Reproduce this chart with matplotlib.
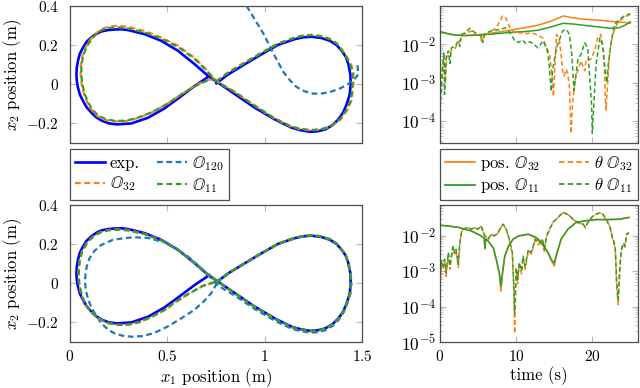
import numpy as np
import matplotlib
matplotlib.use("Agg")
import matplotlib.pyplot as plt
from matplotlib.ticker import FixedLocator, FixedFormatter, LogLocator, NullFormatter
from matplotlib.lines import Line2D

plt.rcParams['mathtext.fontset'] = 'cm'
plt.rcParams['font.family'] = 'serif'
plt.rcParams['font.serif'] = ['cmr10', 'DejaVu Serif']
plt.rcParams['axes.formatter.use_mathtext'] = True
plt.rcParams['font.size'] = 11

# ---------------- data: trajectories (x1, x2) ----------------
exp_x = [0.752, 0.813, 0.899, 0.985, 1.070, 1.156, 1.198, 1.241, 1.290, 1.336, 1.370, 1.396, 1.417, 1.430,
         1.440, 1.442, 1.437, 1.421, 1.403, 1.378, 1.347, 1.310, 1.272, 1.233, 1.186, 1.139, 1.053, 0.950,
         0.848, 0.760, 0.709, 0.640, 0.555, 0.469, 0.384, 0.298, 0.265, 0.230, 0.195, 0.161, 0.134, 0.110,
         0.085, 0.067, 0.050, 0.041, 0.035, 0.033, 0.035, 0.041, 0.051, 0.067, 0.086, 0.110, 0.134, 0.161,
         0.197, 0.238, 0.315, 0.401, 0.486, 0.572, 0.640, 0.700, 0.715]
exp_y = [0.005, 0.051, 0.103, 0.154, 0.202, 0.231, 0.240, 0.243, 0.237, 0.222, 0.200, 0.171, 0.140, 0.103,
         0.052, 0.000, -0.052, -0.103, -0.145, -0.180, -0.210, -0.231, -0.240, -0.243, -0.235, -0.222, -0.180, -0.120,
         -0.051, 0.009, 0.043, 0.103, 0.171, 0.222, 0.256, 0.277, 0.281, 0.280, 0.277, 0.270, 0.257, 0.240,
         0.217, 0.188, 0.155, 0.120, 0.086, 0.051, 0.017, -0.017, -0.053, -0.086, -0.118, -0.145, -0.168, -0.185,
         -0.199, -0.205, -0.200, -0.171, -0.123, -0.060, -0.009, 0.031, 0.042]

# top panel: O32 and O11 models
o32_top_x = [0.752, 0.813, 0.899, 0.985, 1.070, 1.156, 1.198, 1.241, 1.290, 1.336, 1.370, 1.410, 1.440, 1.455,
             1.457, 1.452, 1.447, 1.425, 1.390, 1.350, 1.300, 1.241, 1.186, 1.139, 1.053, 0.950, 0.848, 0.800,
             0.752, 0.700, 0.640, 0.555, 0.469, 0.384, 0.300, 0.247, 0.200, 0.161, 0.118, 0.085, 0.065, 0.056,
             0.055, 0.060, 0.072, 0.090, 0.110, 0.140, 0.180, 0.230, 0.290, 0.350, 0.418, 0.500, 0.572, 0.640,
             0.700, 0.745]
o32_top_y = [0.016, 0.062, 0.113, 0.163, 0.210, 0.240, 0.250, 0.253, 0.247, 0.232, 0.210, 0.160, 0.110, 0.068,
             0.020, -0.030, -0.080, -0.130, -0.180, -0.210, -0.229, -0.236, -0.230, -0.218, -0.176, -0.110, -0.040, -0.012,
             0.016, 0.075, 0.135, 0.197, 0.239, 0.272, 0.293, 0.299, 0.295, 0.282, 0.248, 0.200, 0.150, 0.100,
             0.051, 0.000, -0.050, -0.095, -0.130, -0.162, -0.182, -0.190, -0.188, -0.172, -0.145, -0.100, -0.051, -0.008,
             0.020, 0.030]
o11_top_x = [0.752, 0.813, 0.899, 0.985, 1.070, 1.156, 1.198, 1.241, 1.290, 1.336, 1.370, 1.408, 1.437, 1.451,
             1.453, 1.449, 1.443, 1.422, 1.388, 1.348, 1.300, 1.241, 1.186, 1.139, 1.053, 0.950, 0.848, 0.800,
             0.752, 0.700, 0.640, 0.555, 0.469, 0.384, 0.300, 0.247, 0.200, 0.161, 0.120, 0.088, 0.068, 0.059,
             0.058, 0.063, 0.075, 0.093, 0.113, 0.143, 0.183, 0.232, 0.290, 0.350, 0.418, 0.500, 0.572, 0.640,
             0.700, 0.745]
o11_top_y = [0.014, 0.059, 0.110, 0.160, 0.207, 0.238, 0.248, 0.251, 0.245, 0.230, 0.208, 0.158, 0.108, 0.066,
             0.018, -0.031, -0.080, -0.128, -0.177, -0.207, -0.227, -0.234, -0.228, -0.216, -0.175, -0.110, -0.041, -0.013,
             0.014, 0.071, 0.130, 0.191, 0.233, 0.265, 0.285, 0.291, 0.288, 0.276, 0.243, 0.197, 0.148, 0.099,
             0.051, 0.001, -0.048, -0.092, -0.127, -0.158, -0.178, -0.187, -0.186, -0.170, -0.144, -0.100, -0.052, -0.010,
             0.017, 0.028]
o120_top_x = [0.907, 0.950, 0.993, 1.045, 1.096, 1.130, 1.164, 1.205, 1.250, 1.295, 1.336, 1.380, 1.421, 1.464,
              1.481, 1.478, 1.473]
o120_top_y = [0.400, 0.330, 0.260, 0.157, 0.063, 0.020, -0.014, -0.036, -0.048, -0.047, -0.039, -0.024, -0.005, 0.029,
              0.051, 0.085, 0.113]

# bottom panel
o32_bot_x = [0.752, 0.813, 0.899, 0.985, 1.070, 1.156, 1.198, 1.241, 1.290, 1.336, 1.370, 1.417, 1.442, 1.445,
             1.440, 1.423, 1.405, 1.380, 1.349, 1.312, 1.272, 1.233, 1.186, 1.139, 1.053, 0.950, 0.848, 0.760,
             0.709, 0.640, 0.555, 0.469, 0.384, 0.298, 0.265, 0.230, 0.195, 0.161, 0.134, 0.110, 0.085, 0.062,
             0.050, 0.044, 0.043, 0.046, 0.055, 0.070, 0.090, 0.115, 0.145, 0.190, 0.247, 0.300, 0.360, 0.420,
             0.490, 0.531, 0.600, 0.680, 0.752]
o32_bot_y = [0.008, 0.052, 0.104, 0.155, 0.203, 0.233, 0.242, 0.246, 0.240, 0.225, 0.203, 0.143, 0.053, 0.000,
             -0.052, -0.103, -0.145, -0.180, -0.210, -0.232, -0.242, -0.245, -0.237, -0.224, -0.182, -0.121, -0.052, 0.008,
             0.045, 0.104, 0.170, 0.220, 0.252, 0.272, 0.275, 0.275, 0.272, 0.263, 0.250, 0.232, 0.205, 0.165,
             0.120, 0.080, 0.040, 0.000, -0.045, -0.090, -0.125, -0.155, -0.180, -0.203, -0.213, -0.212, -0.198, -0.172,
             -0.135, -0.104, -0.060, -0.015, 0.009]
o11_bot_x = [0.752, 0.813, 0.899, 0.985, 1.070, 1.156, 1.198, 1.241, 1.290, 1.336, 1.370, 1.416, 1.441, 1.444,
             1.439, 1.422, 1.404, 1.379, 1.348, 1.311, 1.272, 1.233, 1.186, 1.139, 1.053, 0.950, 0.848, 0.760,
             0.709, 0.640, 0.555, 0.469, 0.384, 0.298, 0.265, 0.230, 0.195, 0.161, 0.134, 0.110, 0.086, 0.063,
             0.051, 0.046, 0.045, 0.048, 0.057, 0.072, 0.092, 0.117, 0.147, 0.192, 0.247, 0.300, 0.360, 0.420,
             0.490, 0.531, 0.600, 0.680, 0.752]
o11_bot_y = [0.008, 0.052, 0.104, 0.155, 0.203, 0.233, 0.242, 0.246, 0.240, 0.225, 0.203, 0.143, 0.053, 0.000,
             -0.052, -0.103, -0.145, -0.180, -0.210, -0.232, -0.242, -0.245, -0.237, -0.224, -0.182, -0.121, -0.052, 0.008,
             0.045, 0.104, 0.169, 0.219, 0.251, 0.270, 0.273, 0.273, 0.270, 0.261, 0.248, 0.230, 0.203, 0.164,
             0.120, 0.080, 0.040, 0.000, -0.044, -0.089, -0.124, -0.154, -0.179, -0.202, -0.212, -0.211, -0.197, -0.171,
             -0.134, -0.103, -0.059, -0.014, 0.009]
o120_bot_x = [0.752, 0.813, 0.899, 0.985, 1.070, 1.156, 1.198, 1.241, 1.290, 1.336, 1.370, 1.417, 1.442, 1.445,
              1.440, 1.423, 1.405, 1.380, 1.349, 1.312, 1.272, 1.233, 1.186, 1.139, 1.053, 0.950, 0.848, 0.790,
              0.752, 0.726, 0.675, 0.606, 0.500, 0.400, 0.330, 0.281, 0.220, 0.161, 0.125, 0.100, 0.087, 0.080,
              0.077, 0.080, 0.090, 0.101, 0.125, 0.161, 0.200, 0.230, 0.270, 0.315, 0.370, 0.430, 0.500, 0.570,
              0.637, 0.690, 0.726, 0.752]
o120_bot_y = [0.000, 0.050, 0.102, 0.153, 0.201, 0.232, 0.241, 0.245, 0.239, 0.224, 0.202, 0.142, 0.052, 0.000,
              -0.054, -0.107, -0.150, -0.187, -0.218, -0.240, -0.250, -0.252, -0.245, -0.232, -0.192, -0.132, -0.064, -0.030,
              -0.004, 0.026, 0.077, 0.137, 0.205, 0.232, 0.235, 0.231, 0.222, 0.196, 0.165, 0.127, 0.090, 0.050,
              0.017, -0.030, -0.070, -0.103, -0.150, -0.205, -0.240, -0.256, -0.268, -0.273, -0.270, -0.255, -0.222, -0.180,
              -0.137, -0.090, -0.050, -0.004]

# ---------------- data: errors over time (log10 of error) ----------------
t_pos_top = [0, 1, 2, 3.3, 5, 6.3, 8, 9.8, 11, 12.9, 14.5, 16.2, 17.5, 19.2, 21, 22.4, 23.5, 24.3, 25]
pos32_top_log = [-1.67, -1.72, -1.76, -1.77, -1.75, -1.72, -1.67, -1.61, -1.57, -1.50, -1.40, -1.26, -1.31,
                 -1.35, -1.37, -1.40, -1.42, -1.43, -1.45]
pos11_top_log = [-1.67, -1.72, -1.76, -1.77, -1.76, -1.74, -1.71, -1.68, -1.67, -1.63, -1.55, -1.45, -1.47,
                 -1.51, -1.55, -1.58, -1.57, -1.50, -1.41]

t_th11_top = [0, 0.3, 0.5, 0.6, 0.8, 1.1, 1.3, 1.5, 2.0, 2.4, 2.6, 2.8, 3.3, 3.9, 4.5, 5.0, 5.4, 5.6, 5.9,
              6.8, 7.6, 8.6, 9.2, 9.6, 9.8, 10.3, 10.8, 11.3, 11.8, 12.3, 12.9, 13.5, 14.0, 14.2, 14.4, 14.6,
              14.8, 15.3, 16.1, 16.6, 17.0, 17.3, 17.6, 17.8, 18.1, 18.5, 19.0, 19.4, 19.6, 19.9, 20.0, 20.2,
              20.5, 21.0, 21.4, 21.6, 21.9, 22.1, 22.5, 22.9, 23.6, 24.2, 24.7, 25.0]
th11_top_log = [-3.66, -2.80, -2.20, -3.30, -2.35, -2.17, -2.50, -2.09, -2.05, -1.91, -2.05, -1.74, -1.70,
                -1.58, -1.68, -1.75, -1.78, -1.95, -1.72, -1.64, -1.62, -1.57, -1.70, -1.83, -1.91, -1.95,
                -1.88, -1.98, -1.93, -2.00, -2.09, -1.91, -2.10, -2.26, -2.69, -3.23, -2.65, -2.09, -1.65,
                -1.61, -1.74, -2.26, -3.20, -2.86, -2.40, -2.26, -1.96, -2.09, -2.69, -3.56, -4.32, -3.56,
                -2.52, -1.83, -2.04, -2.52, -3.00, -2.52, -1.91, -1.48, -1.35, -1.26, -1.22, -1.20]

t_th32_top = [0, 0.3, 0.5, 0.7, 0.9, 1.2, 1.5, 2.0, 2.4, 2.8, 3.3, 4.1, 4.6, 5.3, 5.5, 5.8, 6.5, 7.0, 7.6,
              8.2, 8.6, 9.2, 9.8, 10.5, 11.3, 12.0, 12.6, 13.5, 14.0, 14.4, 14.7, 14.9, 15.1, 15.3, 15.7,
              15.9, 16.1, 16.3, 16.6, 16.8, 17.0, 17.1, 17.2, 17.4, 17.7, 18.1, 18.5, 19.0, 19.2, 19.8, 20.3,
              20.7, 21.1, 21.3, 21.6, 21.7, 21.8, 22.0, 22.3, 22.7, 23.2, 23.8, 24.5, 25.0]
th32_top_log = [-3.45, -2.60, -2.30, -3.00, -2.30, -2.30, -2.15, -2.10, -1.95, -1.85, -1.72, -1.65, -1.72,
                -1.78, -1.95, -1.75, -1.70, -1.62, -1.50, -1.26, -1.30, -1.57, -1.70, -1.70, -1.72, -1.70,
                -1.74, -1.83, -2.09, -2.26, -2.80, -3.36, -2.50, -1.74, -1.91, -2.26, -2.69, -2.82, -2.65,
                -2.78, -3.12, -3.73, -4.32, -3.56, -2.95, -2.69, -2.43, -2.69, -2.39, -2.39, -2.17, -1.83,
                -1.74, -1.91, -2.60, -3.39, -3.71, -3.04, -2.17, -1.74, -1.48, -1.35, -1.26, -1.22]

t_pos_bot = [0, 1, 2.4, 4.1, 5.4, 5.8, 5.9, 6.0, 6.3, 7.0, 7.4, 7.8, 8.0, 8.2, 8.5, 9.0, 9.6, 10.3, 11.6,
             12.6, 13.0, 13.5, 14.2, 14.6, 15.0, 15.3, 15.9, 16.8, 17.9, 19.2, 20.5, 22.3, 23.6, 24.8]
pos11_bot_log = [-1.71, -1.73, -1.77, -1.87, -2.01, -2.07, -2.35, -2.10, -2.15, -2.34, -2.67, -3.05, -3.42,
                 -3.05, -2.58, -2.29, -2.10, -2.01, -1.96, -2.05, -2.12, -2.25, -2.48, -2.67, -2.78, -2.53,
                 -2.10, -1.82, -1.63, -1.58, -1.55, -1.55, -1.54, -1.49]
pos32_bot_log = [-1.71, -1.73, -1.77, -1.87, -2.01, -2.07, -2.38, -2.10, -2.15, -2.35, -2.70, -3.12, -3.57,
                 -3.10, -2.60, -2.30, -2.11, -2.02, -1.97, -2.07, -2.18, -2.27, -2.50, -2.70, -2.86, -2.56,
                 -2.11, -1.82, -1.63, -1.58, -1.55, -1.55, -1.54, -1.49]

t_th_bot = [0, 0.2, 0.4, 0.6, 0.8, 1.1, 1.3, 1.5, 1.7, 1.9, 2.1, 2.4, 2.6, 2.8, 3.0, 3.7, 4.1, 4.6, 5.0,
            5.4, 5.9, 6.3, 6.8, 7.2, 7.6, 8.1, 8.3, 8.7, 9.1, 9.5, 9.6, 9.7, 9.8, 9.9, 10.0, 10.2, 10.4,
            10.7, 10.9, 11.2, 11.6, 12.0, 12.5, 12.9, 13.1, 13.5, 13.7, 14.0, 14.4, 14.8, 15.5, 16.1, 16.8,
            17.5, 18.1, 18.8, 19.1, 19.4, 20.1, 21.0, 21.4, 21.8, 22.3, 22.6, 23.0, 23.1, 23.2, 23.4, 23.6,
            23.8, 24.1, 24.3, 24.5, 24.8]
th11_bot_log = [-3.24, -2.70, -2.86, -2.67, -3.05, -2.48, -2.86, -2.58, -2.29, -2.48, -2.39, -2.81, -2.20,
                -1.92, -1.82, -1.77, -1.82, -1.77, -1.82, -1.73, -2.01, -2.10, -1.96, -2.01, -1.92, -1.73,
                -1.68, -1.82, -2.10, -2.48, -2.95, -3.43, -4.18, -3.60, -2.90, -3.24, -2.76, -3.00, -2.58,
                -2.86, -2.39, -2.48, -2.10, -2.20, -2.20, -2.10, -2.39, -2.01, -1.82, -1.63, -1.49, -1.35,
                -1.40, -1.54, -1.63, -1.68, -1.77, -1.63, -1.44, -1.35, -1.40, -1.54, -1.73, -2.01, -2.29,
                -2.76, -3.33, -3.80, -2.95, -2.39, -2.20, -2.29, -1.96, -1.92]
th32_bot_log = [-3.35, -2.75, -2.95, -2.72, -3.15, -2.52, -2.95, -2.62, -2.33, -2.52, -2.43, -2.90, -2.24,
                -1.94, -1.83, -1.78, -1.83, -1.78, -1.83, -1.74, -2.03, -2.12, -1.97, -2.03, -1.93, -1.74,
                -1.69, -1.83, -2.12, -2.52, -3.05, -3.60, -4.76, -3.90, -2.95, -3.35, -2.80, -3.08, -2.62,
                -2.95, -2.43, -2.52, -2.14, -2.26, -2.24, -2.14, -2.45, -2.03, -1.83, -1.64, -1.50, -1.36,
                -1.41, -1.55, -1.64, -1.69, -1.79, -1.64, -1.45, -1.36, -1.41, -1.55, -1.75, -2.05, -2.35,
                -2.85, -3.50, -3.95, -3.05, -2.43, -2.24, -2.33, -1.98, -1.93]

xy_ticks_x = [0, 0.5, 1, 1.5]
xy_ticklabels_x = ['$0$', '$0.5$', '$1$', '$1.5$']
xy_ticks_y = [-0.2, 0, 0.2, 0.4]
xy_ticklabels_y = ['$-0.2$', '$0$', '$0.2$', '$0.4$']
t_ticks = [0, 10, 20]
t_ticklabels = ['$0$', '$10$', '$20$']

# ---------------- styling ----------------
C_EXP = '#0000ff'
C_120 = '#1f77b4'
C_32 = '#ff7f0e'
C_11 = '#2ca02c'
FRAME = '#4d4d4d'
TICKC = '#b8b8b8'
TICK_FS = 11
LAB_FS = 12
LEG_FS = 12

fig = plt.figure(figsize=(6.4, 3.88), dpi=100)
W, H = 640.0, 388.0
ax_tl = fig.add_axes([70 / W, 1 - 143 / H, 292 / W, 137 / H])
ax_bl = fig.add_axes([70 / W, 1 - 342 / H, 292 / W, 137 / H])
ax_tr = fig.add_axes([440 / W, 1 - 143 / H, 198 / W, 137 / H])
ax_br = fig.add_axes([440 / W, 1 - 342 / H, 198 / W, 137 / H])


def style(ax, fs):
    for s in ax.spines.values():
        s.set_color(FRAME)
        s.set_linewidth(0.9)
    ax.tick_params(which='both', direction='in', top=True, right=True, color=TICKC,
                   labelsize=fs)
    ax.tick_params(which='major', length=4, width=0.8)
    ax.tick_params(which='minor', length=2, width=0.6)


lw_exp = 1.9
lw_d = 1.6
dash = (2.6, 1.6)

for ax, o32x, o32y, o11x, o11y, o120x, o120y in [
        (ax_tl, o32_top_x, o32_top_y, o11_top_x, o11_top_y, o120_top_x, o120_top_y),
        (ax_bl, o32_bot_x, o32_bot_y, o11_bot_x, o11_bot_y, o120_bot_x, o120_bot_y)]:
    ax.plot(exp_x, exp_y, color=C_EXP, lw=lw_exp, solid_joinstyle='round', zorder=2)
    ax.plot(o120x, o120y, color=C_120, lw=lw_d, dashes=dash, zorder=3)
    ax.plot(o32x, o32y, color=C_32, lw=lw_d, dashes=dash, zorder=4)
    ax.plot(o11x, o11y, color=C_11, lw=lw_d, dashes=dash, zorder=5)
    ax.set_xlim(0, 1.5)
    ax.set_ylim(-0.3, 0.4)
    ax.xaxis.set_major_locator(FixedLocator(xy_ticks_x))
    ax.yaxis.set_major_locator(FixedLocator(xy_ticks_y))
    ax.yaxis.set_major_formatter(FixedFormatter(xy_ticklabels_y))
    style(ax, TICK_FS)
    ax.tick_params(axis='y', pad=8)
    ax.set_ylabel(r'$x_2$ position (m)', fontsize=LAB_FS)
    ax.yaxis.set_label_coords(-0.158, 0.5)

ax_tl.xaxis.set_major_formatter(NullFormatter())
ax_bl.xaxis.set_major_formatter(FixedFormatter(xy_ticklabels_x))
ax_bl.tick_params(axis='x', pad=5)
ax_bl.set_xlabel(r'$x_1$ position (m)', fontsize=LAB_FS)
ax_bl.xaxis.set_label_coords(0.5, -0.18)

lw_t = 1.1
tdash = (3.0, 1.8)
ax_tr.plot(t_pos_top, 10 ** np.array(pos32_top_log), color=C_32, lw=lw_t)
ax_tr.plot(t_pos_top, 10 ** np.array(pos11_top_log), color=C_11, lw=lw_t)
ax_tr.plot(t_th32_top, 10 ** np.array(th32_top_log), color=C_32, lw=lw_t, dashes=tdash)
ax_tr.plot(t_th11_top, 10 ** np.array(th11_top_log), color=C_11, lw=lw_t, dashes=tdash)
ax_tr.set_ylim(10 ** -4.57, 10 ** -1.0)

ax_br.plot(t_th_bot, 10 ** np.array(th32_bot_log), color=C_32, lw=lw_t, dashes=tdash)
ax_br.plot(t_pos_bot, 10 ** np.array(pos32_bot_log), color=C_32, lw=lw_t)
ax_br.plot(t_th_bot, 10 ** np.array(th11_bot_log), color=C_11, lw=lw_t, dashes=tdash)
ax_br.plot(t_pos_bot, 10 ** np.array(pos11_bot_log), color=C_11, lw=lw_t)
ax_br.set_ylim(10 ** -5.0, 10 ** -1.14)

for ax, dec in [(ax_tr, [-4, -3, -2]), (ax_br, [-5, -4, -3, -2])]:
    ax.set_yscale('log')
    ax.set_xlim(0, 26)
    ax.xaxis.set_major_locator(FixedLocator(t_ticks))
    ax.yaxis.set_major_locator(FixedLocator([10.0 ** d for d in dec]))
    ax.yaxis.set_major_formatter(FixedFormatter(['$10^{%d}$' % d for d in dec]))
    ax.yaxis.set_minor_locator(LogLocator(base=10, subs=np.arange(2, 10), numticks=20))
    ax.yaxis.set_minor_formatter(NullFormatter())
    style(ax, TICK_FS)
    ax.tick_params(axis='y', labelsize=12.5, pad=3)

ax_tr.xaxis.set_major_formatter(NullFormatter())
ax_br.xaxis.set_major_formatter(FixedFormatter(t_ticklabels))
ax_br.tick_params(axis='x', pad=5)
ax_br.set_xlabel('time (s)', fontsize=LAB_FS)
ax_br.xaxis.set_label_coords(0.5, -0.18)

# ---------------- legends ----------------
h_exp = Line2D([], [], color=C_EXP, lw=lw_exp)
h_120 = Line2D([], [], color=C_120, lw=lw_d, dashes=dash)
h_32 = Line2D([], [], color=C_32, lw=lw_d, dashes=dash)
h_11 = Line2D([], [], color=C_11, lw=lw_d, dashes=dash)
leg1 = fig.legend([h_exp, h_32, h_120, h_11],
                  ['exp.', r'$\mathbb{O}_{32}$', r'$\mathbb{O}_{120}$', r'$\mathbb{O}_{11}$'],
                  loc='upper left', bbox_to_anchor=(70 / W, 1 - 149 / H, 159 / W, 0.0),
                  mode='expand', ncol=2,
                  fontsize=LEG_FS, frameon=True, fancybox=False, framealpha=1,
                  edgecolor=FRAME, handlelength=1.8, handletextpad=0.3,
                  columnspacing=0.5, labelspacing=0.2, borderpad=0.3, borderaxespad=0)
leg1.get_frame().set_linewidth(0.9)

g_p32 = Line2D([], [], color=C_32, lw=lw_t + 0.2)
g_p11 = Line2D([], [], color=C_11, lw=lw_t + 0.2)
g_t32 = Line2D([], [], color=C_32, lw=lw_t + 0.2, dashes=tdash)
g_t11 = Line2D([], [], color=C_11, lw=lw_t + 0.2, dashes=tdash)
leg2 = fig.legend([g_p32, g_p11, g_t32, g_t11],
                  [r'pos. $\mathbb{O}_{32}$', r'pos. $\mathbb{O}_{11}$',
                   r'$\theta\ \mathbb{O}_{32}$', r'$\theta\ \mathbb{O}_{11}$'],
                  loc='upper left', bbox_to_anchor=(440 / W, 1 - 149 / H, 198 / W, 0.0),
                  mode='expand', ncol=2,
                  fontsize=LEG_FS, frameon=True, fancybox=False, framealpha=1,
                  edgecolor=FRAME, handlelength=1.8, handletextpad=0.3,
                  columnspacing=0.5, labelspacing=0.2, borderpad=0.3, borderaxespad=0)
leg2.get_frame().set_linewidth(0.9)

fig.savefig('out.png', dpi=100)
